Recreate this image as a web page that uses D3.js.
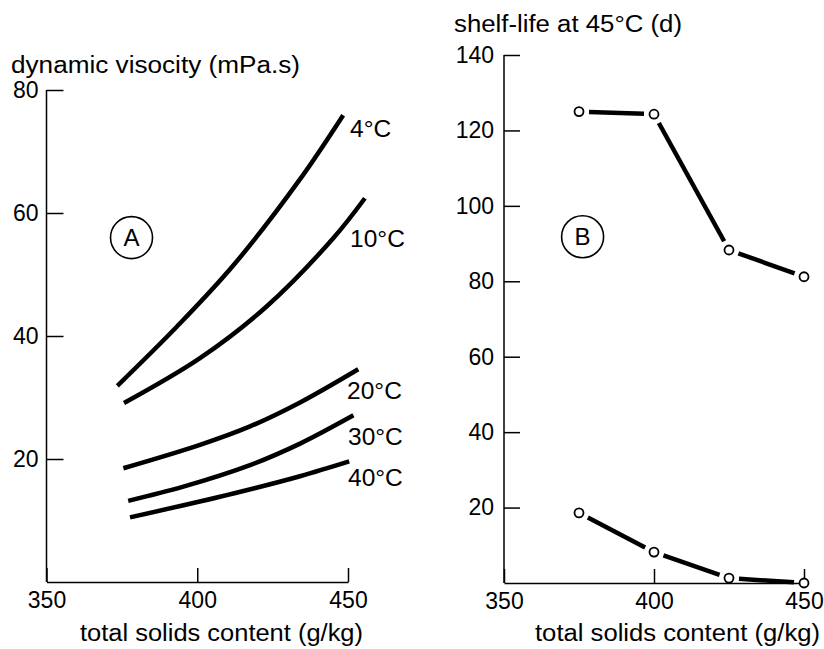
<!DOCTYPE html>
<html>
<head>
<meta charset="utf-8">
<script src="https://cdn.jsdelivr.net/npm/d3@7"></script>
<style>
  body { margin: 0; background: #fff; }
  svg text { font-family: "Liberation Sans", Arial, sans-serif; fill: #000; }
</style>
</head>
<body>
<div id="chart"></div>
<script>
// panel A: viscosity curves, [total solids g/kg, viscosity mPa.s]
const tempLabels = ["4°C", "10°C", "20°C", "30°C", "40°C"];
const visc4  = [[373.5, 31.9], [393.2, 41.5], [412.0, 51.5], [434.1, 65.5], [448.4, 75.9]];
const visc10 = [[375.7, 29.1], [400.9, 36.4], [423.0, 44.8], [445.1, 55.9], [455.6, 62.4]];
const visc20 = [[375.5, 18.5], [400.9, 22.3], [417.5, 25.3], [434.1, 29.2], [453.4, 34.6]];
const visc30 = [[377.1, 13.2], [395.4, 15.5], [417.5, 19.0], [434.1, 22.5], [451.8, 27.1]];
const visc40 = [[377.7, 10.5], [412.0, 14.4], [434.1, 17.2], [450.4, 19.6]];
// where the temperature labels sit (data units)
const labelSolids = [450.7, 450.7, 449.7, 450.0, 450.0];
const labelVisc   = [72.4, 54.4, 29.7, 22.2, 15.6];

// panel B: shelf-life at 45°C
const solidsB = [375, 400, 425, 450];
const shelfTop = [125, 124.3, 88.3, 81.2];
const shelfBottom = [18.6, 8.2, 1.3, 0];

const viscTicks = [20, 40, 60, 80];
const shelfTicks = [20, 40, 60, 80, 100, 120, 140];
const solidsTicks = [350, 400, 450];

const w = 824, h = 649;
const svg = d3.select("#chart").append("svg")
  .attr("width", w).attr("height", h);

const fs = "23px";

function styleAxis(g) {
  g.selectAll("path, line").attr("stroke", "#000").attr("stroke-width", 1.5);
  g.selectAll("text").style("font-size", fs).attr("fill", "#000");
}

// stretched title text (the original face is wider than Liberation Sans)
function title(x, y, str, width) {
  svg.append("text")
    .attr("x", x).attr("y", y)
    .attr("textLength", width)
    .attr("lengthAdjust", "spacingAndGlyphs")
    .style("font-size", "23.5px")
    .text(str);
}

// circled letter
function badge(cx, cy, letter) {
  svg.append("circle")
    .attr("cx", cx).attr("cy", cy).attr("r", 21)
    .attr("fill", "none").attr("stroke", "#000").attr("stroke-width", 1.6);
  svg.append("text")
    .attr("x", cx).attr("y", cy)
    .attr("text-anchor", "middle")
    .attr("dy", "0.36em")
    .style("font-size", "24px")
    .text(letter);
}

// ---------- panel A ----------
const xA = d3.scaleLinear().domain([350, 450]).range([46.5, 348]);
const yA = d3.scaleLinear().domain([0, 80]).range([582, 90]);

svg.append("g")
  .attr("transform", "translate(" + xA(350) + ",0)")
  .call(d3.axisLeft(yA).tickValues(viscTicks).tickSize(-17).tickSizeOuter(0).tickPadding(8))
  .call(styleAxis)
  .call(g => g.select(".domain").attr("d", "M0," + yA(0) + "V" + yA(80)));

svg.append("g")
  .attr("transform", "translate(0," + yA(0) + ")")
  .call(d3.axisBottom(xA).tickValues(solidsTicks).tickSize(-14).tickSizeOuter(0).tickPadding(10))
  .call(styleAxis);

const line = d3.line()
  .x(d => xA(d[0]))
  .y(d => yA(d[1]))
  .curve(d3.curveCatmullRom.alpha(0.5));

const viscSeries = [visc4, visc10, visc20, visc30, visc40];
svg.selectAll(".visc")
  .data(viscSeries)
  .enter()
  .append("path")
  .attr("class", "visc")
  .attr("d", line)
  .attr("fill", "none")
  .attr("stroke", "#000")
  .attr("stroke-width", 4.5);

svg.selectAll(".tlabel")
  .data(tempLabels)
  .enter()
  .append("text")
  .attr("class", "tlabel")
  .attr("x", (d, i) => xA(labelSolids[i]))
  .attr("y", (d, i) => yA(labelVisc[i]))
  .style("font-size", "24.5px")
  .text(d => d);

title(11, 73, "dynamic visocity (mPa.s)", 289);
title(80, 641, "total solids content (g/kg)", 283);
badge(xA(378.2), yA(56), "A");

// ---------- panel B ----------
const xB = d3.scaleLinear().domain([350, 450]).range([504, 804]);
const yB = d3.scaleLinear().domain([0, 140]).range([583, 55]);

svg.append("g")
  .attr("transform", "translate(" + xB(350) + ",0)")
  .call(d3.axisLeft(yB).tickValues(shelfTicks).tickSize(-16).tickSizeOuter(0).tickPadding(10))
  .call(styleAxis)
  .call(g => g.select(".domain").attr("d", "M0," + yB(0) + "V" + yB(140)));

svg.append("g")
  .attr("transform", "translate(0," + yB(0) + ")")
  .call(d3.axisBottom(xB).tickValues(solidsTicks).tickSize(-14).tickSizeOuter(0).tickPadding(10))
  .call(styleAxis);

// segments between markers, trimmed so they stop short of the circles
function drawSeries(vals) {
  const pts = solidsB.map((s, i) => [xB(s), yB(vals[i])]);
  const gap = 10;
  for (let i = 0; i < pts.length - 1; i++) {
    const a = pts[i], b = pts[i + 1];
    const dx = b[0] - a[0], dy = b[1] - a[1];
    const len = Math.sqrt(dx * dx + dy * dy);
    const ux = dx / len, uy = dy / len;
    svg.append("line")
      .attr("x1", a[0] + ux * gap).attr("y1", a[1] + uy * gap)
      .attr("x2", b[0] - ux * gap).attr("y2", b[1] - uy * gap)
      .attr("stroke", "#000").attr("stroke-width", 4.5);
  }
  svg.selectAll(null)
    .data(pts)
    .enter()
    .append("circle")
    .attr("cx", d => d[0]).attr("cy", d => d[1])
    .attr("r", 4.5)
    .attr("fill", "#fff").attr("stroke", "#000").attr("stroke-width", 1.8);
}
drawSeries(shelfTop);
drawSeries(shelfBottom);

title(454, 32, "shelf-life at 45°C (d)", 228);
title(535, 641, "total solids content (g/kg)", 285);
badge(xB(376.2), yB(91.8), "B");
</script>
</body>
</html>
